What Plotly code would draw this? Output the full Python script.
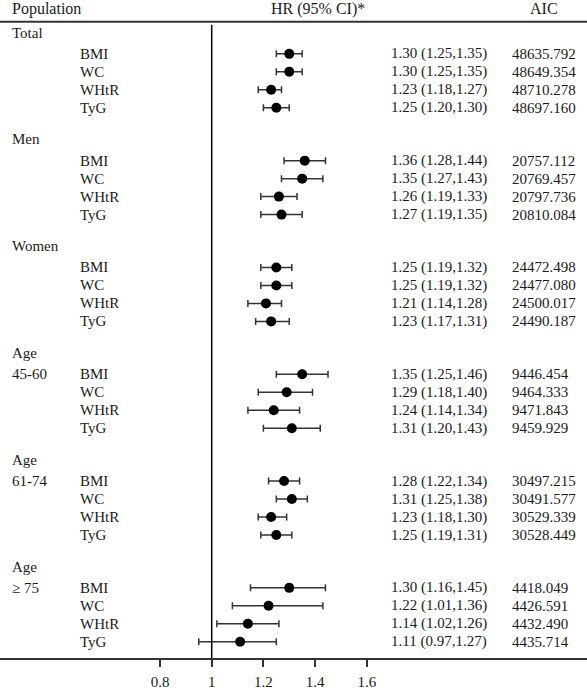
import plotly.graph_objects as go

# ---- data ----
group_top = ["Total", "Men", "Women", "Age", "Age", "Age"]
group_sub = ["", "", "", "45-60", "61-74", "≥ 75"]
indices = ["BMI", "WC", "WHtR", "TyG"]

hr = [
    [1.30, 1.30, 1.23, 1.25],
    [1.36, 1.35, 1.26, 1.27],
    [1.25, 1.25, 1.21, 1.23],
    [1.35, 1.29, 1.24, 1.31],
    [1.28, 1.31, 1.23, 1.25],
    [1.30, 1.22, 1.14, 1.11],
]
ci_lo = [
    [1.25, 1.25, 1.18, 1.20],
    [1.28, 1.27, 1.19, 1.19],
    [1.19, 1.19, 1.14, 1.17],
    [1.25, 1.18, 1.14, 1.20],
    [1.22, 1.25, 1.18, 1.19],
    [1.15, 1.08, 1.02, 0.95],
]
ci_hi = [
    [1.35, 1.35, 1.27, 1.30],
    [1.44, 1.43, 1.33, 1.35],
    [1.31, 1.31, 1.27, 1.30],
    [1.45, 1.39, 1.34, 1.42],
    [1.34, 1.37, 1.29, 1.31],
    [1.44, 1.43, 1.26, 1.25],
]
hr_text = [
    ["1.30 (1.25,1.35)", "1.30 (1.25,1.35)", "1.23 (1.18,1.27)", "1.25 (1.20,1.30)"],
    ["1.36 (1.28,1.44)", "1.35 (1.27,1.43)", "1.26 (1.19,1.33)", "1.27 (1.19,1.35)"],
    ["1.25 (1.19,1.32)", "1.25 (1.19,1.32)", "1.21 (1.14,1.28)", "1.23 (1.17,1.31)"],
    ["1.35 (1.25,1.46)", "1.29 (1.18,1.40)", "1.24 (1.14,1.34)", "1.31 (1.20,1.43)"],
    ["1.28 (1.22,1.34)", "1.31 (1.25,1.38)", "1.23 (1.18,1.30)", "1.25 (1.19,1.31)"],
    ["1.30 (1.16,1.45)", "1.22 (1.01,1.36)", "1.14 (1.02,1.26)", "1.11 (0.97,1.27)"],
]
aic_text = [
    ["48635.792", "48649.354", "48710.278", "48697.160"],
    ["20757.112", "20769.457", "20797.736", "20810.084"],
    ["24472.498", "24477.080", "24500.017", "24490.187"],
    ["9446.454", "9464.333", "9471.843", "9459.929"],
    ["30497.215", "30491.577", "30529.339", "30528.449"],
    ["4418.049", "4426.591", "4432.490", "4435.714"],
]
tick_vals = [0.8, 1, 1.2, 1.4, 1.6]
tick_text = ["0.8", "1", "1.2", "1.4", "1.6"]
col_headers = ["Population", "HR (95% CI)*", "AIC"]

# ---- layout constants (page pixels; body margin removed by post_script) ----
PAGE_W, PAGE_H = 587, 690
OFF = 0
W, H = PAGE_W - OFF, PAGE_H - OFF
ROW_PX = 18.2
GROUP_ROWS = 108.1 / ROW_PX
HEAD_GAP = 21.5 / ROW_PX
Y0_PX = 33.0          # page y of first header row
AX_PX = 666.0         # page y of x-axis line
PX_PER_X = 258.5
X1_PX = 211.7         # page x of HR = 1

FONT = "Liberation Serif, Times New Roman, serif"
TXT = "#1a1a1a"
FS = 15

def row_pos(g, k=None):
    base = g * GROUP_ROWS
    return base if k is None else base + HEAD_GAP + k

def px_x(p):   # page x -> paper x
    return (p - OFF) / W

def px_y(p):   # page y -> paper y (plot area spans page y OFF..AX_PX)
    return (AX_PX - p) / (AX_PX - OFF)

xs, ys, ep, em = [], [], [], []
for g in range(len(group_top)):
    for k in range(len(indices)):
        xs.append(hr[g][k])
        ys.append(row_pos(g, k))
        ep.append(ci_hi[g][k] - hr[g][k])
        em.append(hr[g][k] - ci_lo[g][k])

fig = go.Figure()
fig.add_trace(go.Scatter(
    x=xs, y=ys, mode="markers",
    marker=dict(symbol="circle", size=10, color="black"),
    error_x=dict(type="data", symmetric=False, array=ep, arrayminus=em,
                 color="#333333", thickness=1.5, width=3.5),
    showlegend=False, hoverinfo="skip",
))

ann = []
for g in range(len(group_top)):
    ann.append(dict(x=px_x(10), xref="paper", y=row_pos(g), yref="y",
                    text=group_top[g], xanchor="left", yanchor="middle", showarrow=False))
    if group_sub[g]:
        ann.append(dict(x=px_x(10), xref="paper", y=row_pos(g, 0), yref="y",
                        text=group_sub[g], xanchor="left", yanchor="middle", showarrow=False))
    for k in range(len(indices)):
        y = row_pos(g, k)
        ann.append(dict(x=px_x(78), xref="paper", y=y, yref="y", text=indices[k],
                        xanchor="left", yanchor="middle", showarrow=False))
        ann.append(dict(x=px_x(389), xref="paper", y=y, yref="y", text=hr_text[g][k],
                        xanchor="left", yanchor="middle", showarrow=False))
        ann.append(dict(x=px_x(510), xref="paper", y=y, yref="y", text=aic_text[g][k],
                        xanchor="left", yanchor="middle", showarrow=False))

head_y = px_y(9)
ann.append(dict(x=px_x(10), xref="paper", y=head_y, yref="paper", text=col_headers[0],
                xanchor="left", yanchor="middle", showarrow=False, font=dict(size=16)))
ann.append(dict(x=px_x(318), xref="paper", y=head_y, yref="paper", text=col_headers[1],
                xanchor="center", yanchor="middle", showarrow=False, font=dict(size=16)))
ann.append(dict(x=px_x(544), xref="paper", y=head_y, yref="paper", text=col_headers[2],
                xanchor="center", yanchor="middle", showarrow=False, font=dict(size=16)))

shapes = [
    dict(type="line", xref="paper", yref="paper", x0=0, x1=1,
         y0=px_y(22), y1=px_y(22), line=dict(color="#333333", width=2)),
    dict(type="line", xref="x", yref="paper", x0=1, x1=1,
         y0=0, y1=px_y(25), line=dict(color="black", width=1.5)),
]

x_lo = 1 - (X1_PX - OFF) / PX_PER_X
x_hi = 1 + (PAGE_W - X1_PX) / PX_PER_X
y_top = (OFF - Y0_PX) / ROW_PX
y_bot = (AX_PX - Y0_PX) / ROW_PX

fig.update_layout(
    width=W, height=H,
    margin=dict(l=0, r=0, t=0, b=int(PAGE_H - AX_PX)),
    paper_bgcolor="white", plot_bgcolor="white",
    font=dict(family=FONT, size=FS, color=TXT),
    annotations=ann, shapes=shapes,
    xaxis=dict(range=[x_lo, x_hi], showgrid=False, zeroline=False,
               showline=True, linecolor="#333333", linewidth=2,
               ticks="outside", ticklen=7, tickwidth=1.5, tickcolor="#333333",
               ticklabelstandoff=2,
               tickvals=tick_vals, ticktext=tick_text,
               tickfont=dict(family=FONT, size=FS, color=TXT)),
    yaxis=dict(range=[y_bot, y_top], visible=False, showgrid=False, zeroline=False),
)

fig.write_html("out.html",
               config={"displayModeBar": False},
               post_script="document.body.style.margin='0';document.body.style.padding='0';")
